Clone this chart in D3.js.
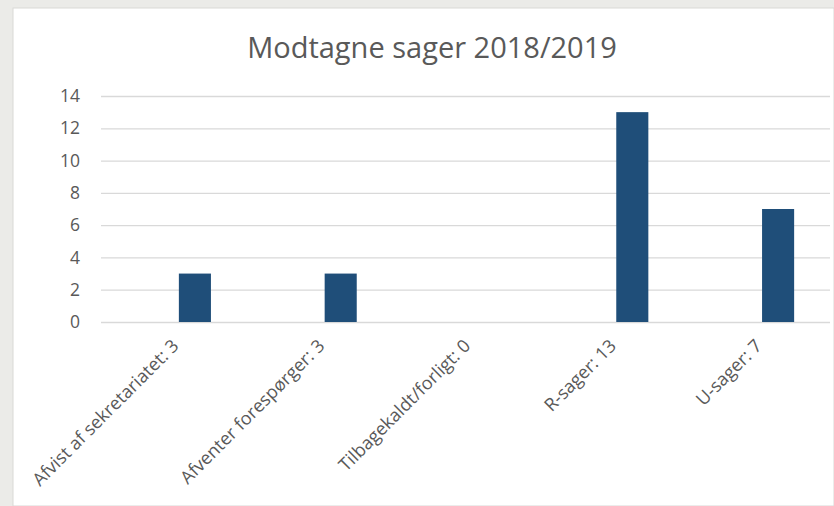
<!DOCTYPE html>
<html>
<head>
<meta charset="utf-8">
<script src="https://cdn.jsdelivr.net/npm/d3@7"></script>
<style>
  body { margin: 0; background: #ebebe8; }
  svg { display: block; }
  text { font-family: "Open Sans", sans-serif; fill: #595959; }
</style>
</head>
<body>
<div id="root"></div>
<script>
const categories = [
  'Afvist af sekretariatet: 3',
  'Afventer forespørger: 3',
  'Tilbagekaldt/forligt: 0',
  'R-sager: 13',
  'U-sager: 7'
];
const values = [3, 3, 0, 13, 7];
const yTicks = [0, 2, 4, 6, 8, 10, 12, 14];
const title = 'Modtagne sager 2018/2019';

const W = 834, H = 506;
const margin = { top: 96, right: 4, bottom: 184, left: 101 };

const svg = d3.select('#root').append('svg')
  .attr('width', W)
  .attr('height', H);

// chart panel
svg.append('rect')
  .attr('x', 13).attr('y', 8)
  .attr('width', W - 13).attr('height', H - 8)
  .attr('fill', '#fff')
  .attr('stroke', '#d9d9d6');

// category band (the bars sit a bit right of the gridline start)
const x = d3.scaleBand()
  .domain(categories)
  .range([122, 851])
  .paddingInner(0.78)
  .paddingOuter(0.39);

const y = d3.scaleLinear()
  .domain([0, 14])
  .range([H - margin.bottom, margin.top]);

// gridlines
svg.append('g')
  .attr('transform', `translate(${margin.left},0)`)
  .call(d3.axisLeft(y).tickValues(yTicks).tickSize(-(W - margin.left - margin.right)).tickFormat(''))
  .call(g => g.select('.domain').remove())
  .call(g => g.selectAll('line').attr('stroke', '#d9d9d9').attr('stroke-width', 1.3));

// y labels
svg.append('g')
  .attr('transform', `translate(${margin.left - 18},0)`)
  .call(d3.axisLeft(y).tickValues(yTicks).tickSize(0))
  .call(g => g.select('.domain').remove())
  .call(g => g.selectAll('text')
    .attr('font-size', 17.5)
    .style('font-family', '"Open Sans", sans-serif')
    .attr('fill', '#595959'));

// bars
svg.append('g').selectAll('rect')
  .data(values)
  .join('rect')
  .attr('x', (d, i) => x(categories[i]))
  .attr('y', d => y(d))
  .attr('width', x.bandwidth())
  .attr('height', d => y(0) - y(d))
  .attr('fill', '#1f4e79');

// x labels
const xc = d3.scaleBand().domain(categories).range([122, 851]);
svg.append('g')
  .attr('transform', `translate(0,${y(0)})`)
  .call(d3.axisBottom(xc).tickSize(0))
  .call(g => g.select('.domain').remove())
  .call(g => g.selectAll('text')
    .attr('font-size', 18)
    .style('font-family', '"Open Sans", sans-serif')
    .attr('fill', '#636363')
    .attr('text-anchor', 'end')
    .attr('dy', 0)
    .attr('y', 0)
    .attr('transform', 'translate(-15,25) rotate(-45)'));

// title
svg.append('text')
  .attr('x', 432)
  .attr('y', 58)
  .attr('text-anchor', 'middle')
  .attr('font-size', 29)
  .text(title);
</script>
</body>
</html>
